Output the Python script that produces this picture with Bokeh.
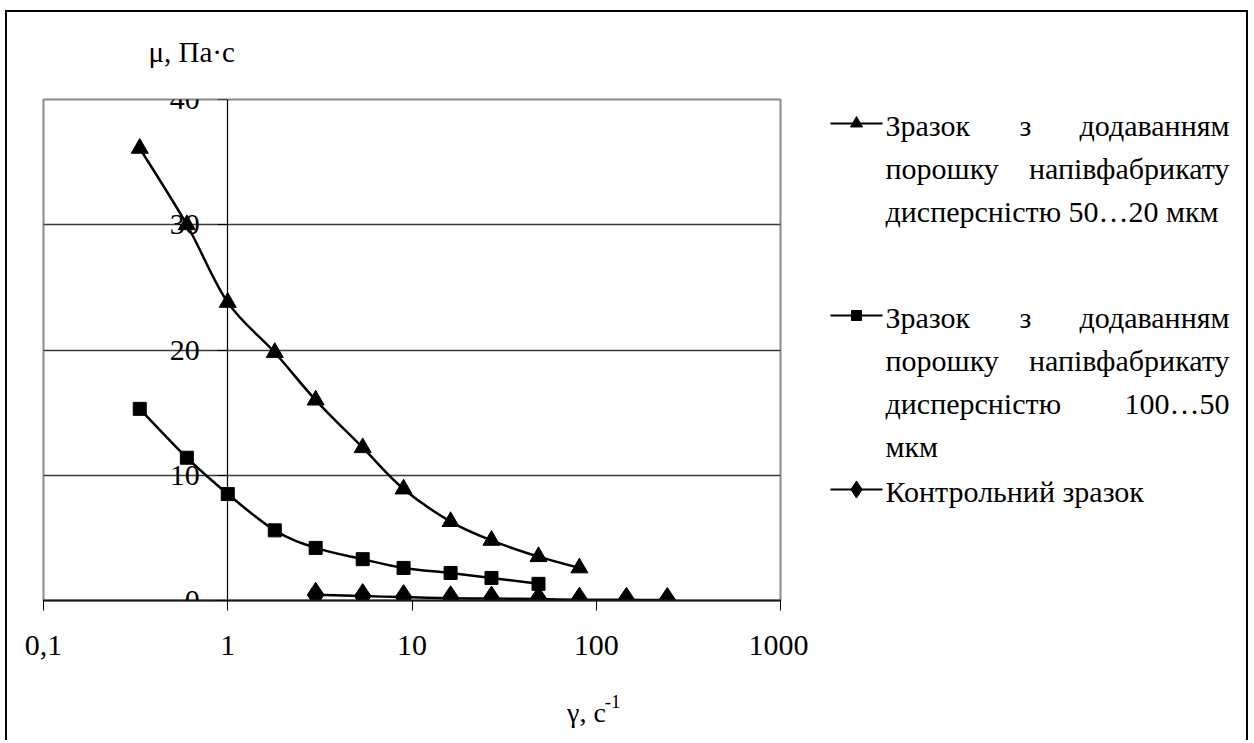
import numpy as np
from bokeh.plotting import figure
from bokeh.models import Range1d, FixedTicker, CustomJSTickFormatter, Spacer
from bokeh.layouts import row, column
from bokeh.embed import file_html
from bokeh.resources import INLINE
from bokeh.core.properties import value

# ---------------- data ----------------
shear_rate = [0.333, 0.6, 1.0, 1.8, 3.0, 5.4, 9.0, 16.2, 27.0, 48.6, 81.0, 145.8, 243.0]
visc_50_20 = [36.1, 30.0, 23.8, 19.8, 16.0, 12.2, 8.9, 6.3, 4.8, 3.5, 2.6]      # shear_rate[0:11]
visc_100_50 = [15.3, 11.4, 8.5, 5.6, 4.2, 3.3, 2.6, 2.2, 1.8, 1.33]            # shear_rate[0:10]
visc_control = [0.45, 0.35, 0.27, 0.18, 0.15, 0.12, 0.06, 0.05, 0.04]          # shear_rate[4:13]

x_ticks = [0.1, 1, 10, 100, 1000]
y_ticks = [0, 10, 20, 30, 40]

y_title = "μ, Па·с"
x_title = "γ, с"
x_title_sup = "-1"

series = [
    (shear_rate[0:11], visc_50_20, "triangle", 17),
    (shear_rate[0:10], visc_100_50, "square", 13),
    (shear_rate[4:13], visc_control, "diamond", 25),
]

legend_entries = [
    ("triangle", 12, [
        [("Зразок", "left"), ("з", "center"), ("додаванням", "right")],
        [("порошку", "left"), ("напівфабрикату", "right")],
        [("дисперсністю 50…20 мкм", "left")],
    ]),
    ("square", 10, [
        [("Зразок", "left"), ("з", "center"), ("додаванням", "right")],
        [("порошку", "left"), ("напівфабрикату", "right")],
        [("дисперсністю", "left"), ("100…50", "right")],
        [("мкм", "left")],
    ]),
    ("diamond", 17, [
        [("Контрольний зразок", "left")],
    ]),
]

FONT = "Liberation Serif"

# ---------------- layout constants (pixels) ----------------
OFF_X, OFF_Y = 5, 10
BORDER = 2
CX0, CY0 = OFF_X + BORDER, OFF_Y + BORDER      # content origin (7, 12)
BOTTOM = 740
SPLIT = 808
RIGHT = 1246
FRAME_L, FRAME_R, FRAME_T, FRAME_B = 43, 780, 99, 600
TOP_STRIP_END = 80      # title strip above the plot
BOT_STRIP_START = 680   # title strip below the plot


def blank_panel(x0, x1, y0, y1):
    p = figure(width=x1 - x0, height=y1 - y0,
               x_range=Range1d(x0, x1), y_range=Range1d(y1, y0),
               x_axis_location=None, y_axis_location=None,
               output_backend="svg", toolbar_location=None, min_border=0)
    p.grid.visible = False
    p.outline_line_color = None
    p.background_fill_color = "white"
    p.border_fill_color = "white"
    return p


# ---------------- title strips ----------------
pTop = blank_panel(CX0, SPLIT, CY0, TOP_STRIP_END)
pTop.text(x=[121], y=[51], text=[y_title], text_align="left", text_baseline="middle",
          text_font=value(FONT), text_font_size=value("29px"), text_color="black")

pBot = blank_panel(CX0, SPLIT, BOT_STRIP_START, BOTTOM)
pBot.text(x=[576], y=[712], text=[x_title], text_align="left", text_baseline="middle",
          text_font=value(FONT), text_font_size=value("28px"), text_color="black")
pBot.text(x=[617], y=[701], text=[x_title_sup], text_align="left", text_baseline="middle",
          text_font=value(FONT), text_font_size=value("19px"), text_color="black")

# ---------------- main plot ----------------
HA = BOT_STRIP_START - TOP_STRIP_END
pA = figure(width=SPLIT - CX0, height=HA, x_axis_type="log",
            x_range=Range1d(0.1, 1000), y_range=Range1d(0, 40),
            output_backend="svg", toolbar_location=None,
            min_border_left=FRAME_L - CX0, min_border_right=SPLIT - FRAME_R,
            min_border_top=FRAME_T - TOP_STRIP_END,
            min_border_bottom=BOT_STRIP_START - FRAME_B)
pA.background_fill_color = "white"
pA.border_fill_color = "white"
pA.outline_line_color = "#8a8a8a"
pA.outline_line_width = 2

pA.xgrid.visible = False
pA.ygrid.ticker = FixedTicker(ticks=[10, 20, 30])
pA.ygrid.grid_line_color = "#3a3a3a"
pA.ygrid.grid_line_width = 1.5

xa = pA.xaxis[0]
xa.ticker = FixedTicker(ticks=x_ticks, minor_ticks=[])
xa.formatter = CustomJSTickFormatter(code="""
    const v = Math.round(tick * 10) / 10;
    return v < 1 ? v.toString().replace('.', ',') : v.toFixed(0);
""")
xa.axis_line_color = "#1a1a1a"
xa.axis_line_width = 2
xa.major_tick_in = 0
xa.major_tick_out = 10
xa.major_tick_line_color = "black"
xa.minor_tick_line_color = None
xa.major_label_text_font = FONT
xa.major_label_text_font_size = "30px"
xa.major_label_text_color = "black"
xa.major_label_standoff = 25

ya = pA.yaxis[0]
ya.fixed_location = 1
ya.ticker = FixedTicker(ticks=y_ticks, minor_ticks=[])
ya.axis_line_color = "black"
ya.axis_line_width = 1.2
ya.major_tick_in = 0
ya.major_tick_out = 10
ya.major_tick_line_color = "black"
ya.minor_tick_line_color = None
ya.major_label_text_font = FONT
ya.major_label_text_font_size = "30px"
ya.major_label_text_color = "black"
ya.major_label_standoff = 18


def smooth_segments(xs, ys):
    """Catmull-Rom -> cubic Bezier in (log10 x, y) space."""
    lx = np.log10(np.asarray(xs, dtype=float))
    yy = np.asarray(ys, dtype=float)
    n = len(lx)
    out = {k: [] for k in ("x0", "y0", "x1", "y1", "cx0", "cy0", "cx1", "cy1")}
    for i in range(n - 1):
        im1 = max(i - 1, 0)
        ip2 = min(i + 2, n - 1)
        c0x = lx[i] + (lx[i + 1] - lx[im1]) / 6.0
        c0y = yy[i] + (yy[i + 1] - yy[im1]) / 6.0
        c1x = lx[i + 1] - (lx[ip2] - lx[i]) / 6.0
        c1y = yy[i + 1] - (yy[ip2] - yy[i]) / 6.0
        out["x0"].append(10 ** lx[i]); out["y0"].append(yy[i])
        out["x1"].append(10 ** lx[i + 1]); out["y1"].append(yy[i + 1])
        out["cx0"].append(10 ** c0x); out["cy0"].append(c0y)
        out["cx1"].append(10 ** c1x); out["cy1"].append(c1y)
    return out


for xs, ys, marker, size in series:
    seg = smooth_segments(xs, ys)
    pA.bezier(x0=seg["x0"], y0=seg["y0"], x1=seg["x1"], y1=seg["y1"],
              cx0=seg["cx0"], cy0=seg["cy0"], cx1=seg["cx1"], cy1=seg["cy1"],
              line_color="black", line_width=2.5)
    pA.scatter(xs, ys, marker=marker, size=size, fill_color="black", line_color="black")

# ---------------- legend panel ----------------
pB = blank_panel(SPLIT, RIGHT, CY0, BOTTOM)

text_left, text_right, text_mid = 885, 1229, 1025
sym_x0, sym_x1 = 830, 882
first_line_y = [125, 317, 491]
line_step = 43

for (marker, msize, lines), ly in zip(legend_entries, first_line_y):
    pB.segment(x0=[sym_x0], y0=[ly - 2], x1=[sym_x1], y1=[ly - 2],
               line_color="black", line_width=2)
    pB.scatter([(sym_x0 + sym_x1) / 2], [ly - 2], marker=marker, size=msize,
               fill_color="black", line_color="black")
    for k, words in enumerate(lines):
        yy = ly + k * line_step
        for word, align in words:
            xx = {"left": text_left, "right": text_right, "center": text_mid}[align]
            pB.text(x=[xx], y=[yy], text=[word], text_align=align,
                    text_baseline="middle", text_font=value(FONT),
                    text_font_size=value("30px"), text_color="black")

inner = row(column(pTop, pA, pBot), pB,
            styles={"border-left": f"{BORDER}px solid black",
                    "border-top": f"{BORDER}px solid black",
                    "border-right": f"{BORDER}px solid black"})
layout = column(Spacer(width=10, height=OFF_Y), row(Spacer(width=OFF_X, height=10), inner))

open("out.html", "w").write(file_html(layout, INLINE))
